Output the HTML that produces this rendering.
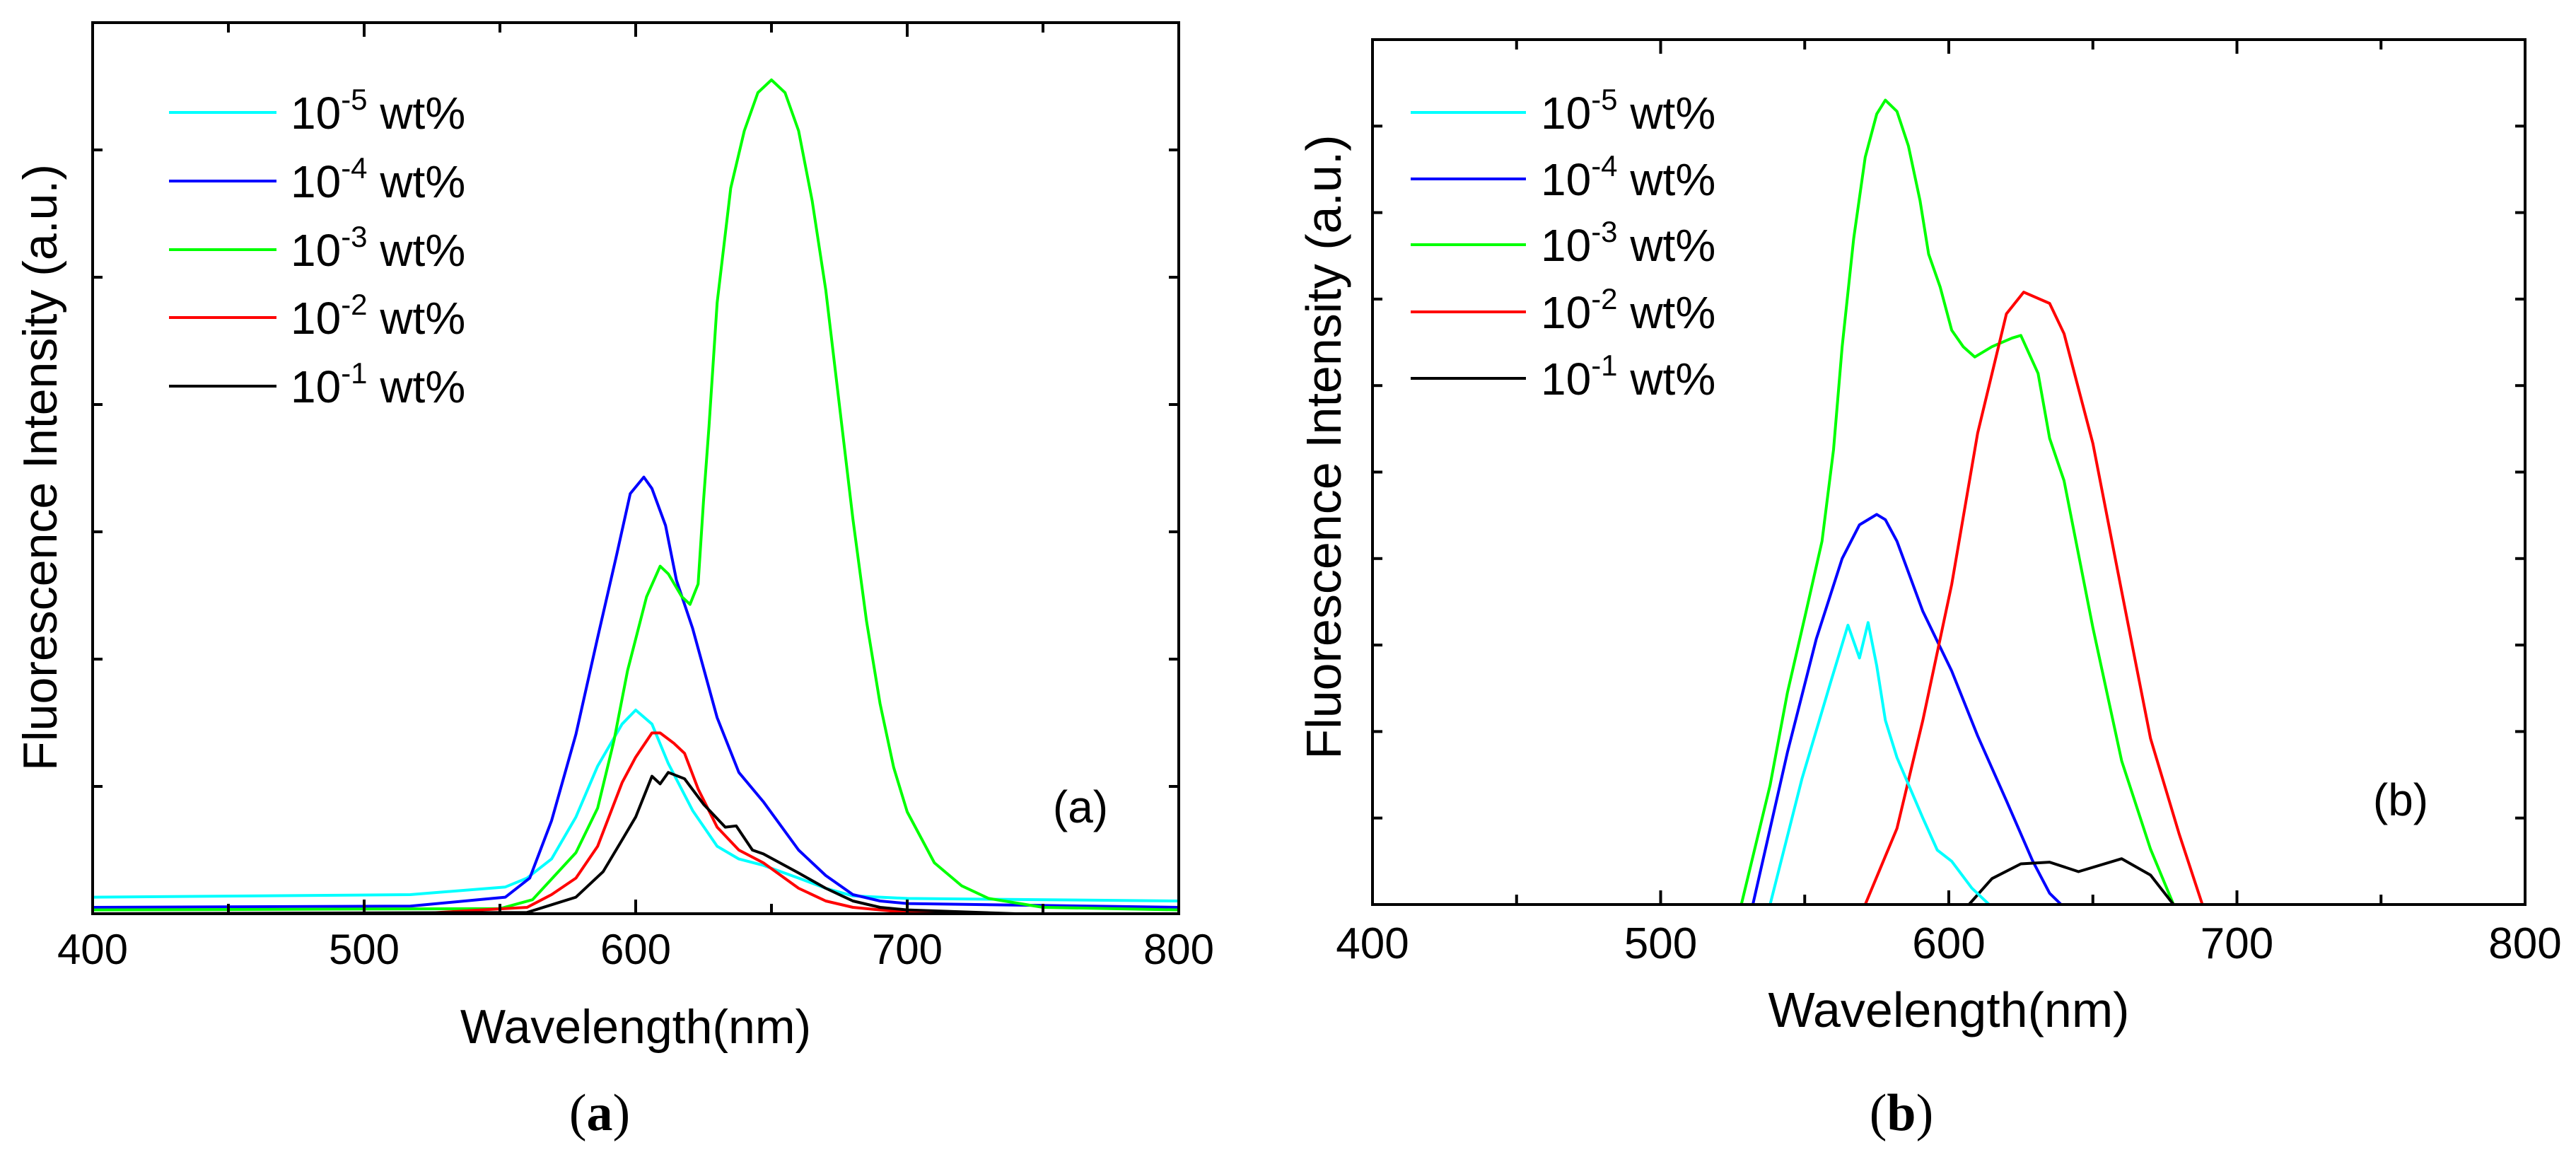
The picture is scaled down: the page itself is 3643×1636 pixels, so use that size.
<!DOCTYPE html>
<html><head><meta charset="utf-8"><style>
html,body{margin:0;padding:0;background:#fff}
svg{display:block}
text{font-family:"Liberation Sans",sans-serif;fill:#000}
</style></head><body>
<svg id="fig" width="3643" height="1636" viewBox="0 0 3643 1636" xmlns="http://www.w3.org/2000/svg"></svg>
<script>
const xTicks=[400,500,600,700,800];
const legendLabels=["-5","-4","-3","-2","-1"];
const seriesColors=["#00ffff","#0000ff","#00ff00","#ff0000","#000000"];
// Panel (a)
const aCyanX=[400,517,552,560,569,578,586,595,600,606,612,621,630,638,647,660,670,680,700,800];
const aCyanY=[0.13,0.15,0.21,0.28,0.43,0.76,1.16,1.49,1.6,1.49,1.18,0.81,0.53,0.43,0.38,0.28,0.2,0.14,0.12,0.1];
const aBlueX=[400,517,552,561,569,578,586,593,598,603,606,611,615,621,630,638,647,660,670,680,690,700,800];
const aBlueY=[0.05,0.06,0.13,0.28,0.73,1.41,2.17,2.82,3.3,3.43,3.34,3.05,2.62,2.24,1.54,1.11,0.88,0.5,0.3,0.15,0.1,0.08,0.05];
const aGreenX=[400,550,562,578,586,592,597,604,609,612,617,620,623,625,627,630,635,640,645,650,655,660,665,670,675,680,685,690,695,700,710,720,730,750,800];
const aGreenY=[0.03,0.04,0.11,0.48,0.83,1.36,1.91,2.49,2.73,2.67,2.49,2.43,2.59,3.25,3.83,4.8,5.7,6.15,6.45,6.55,6.45,6.15,5.6,4.9,4.0,3.1,2.3,1.65,1.15,0.8,0.4,0.22,0.12,0.05,0.03];
const aRedX=[520,543,560,569,578,586,595,600,606,609,614,618,623,630,638,647,660,670,680,700,720];
const aRedY=[0,0.03,0.05,0.15,0.28,0.53,1.03,1.23,1.42,1.42,1.34,1.26,0.98,0.68,0.5,0.4,0.2,0.1,0.05,0.01,0];
const aBlackX=[400,560,578,588,595,600,606,609,612,618,625,633,637,643,647,660,670,680,690,700,740];
const aBlackY=[0,0.01,0.13,0.33,0.58,0.76,1.08,1.02,1.11,1.06,0.86,0.68,0.69,0.5,0.47,0.32,0.2,0.1,0.05,0.03,0];
// Panel (b)
const bCyanX=[400,538,549,559,565,569,572,575,578,582,591,596,601,608,614,800];
const bCyanY=[0,0,1.45,2.57,3.23,2.85,3.26,2.76,2.13,1.7,1.0,0.63,0.5,0.19,0,0];
const bBlueX=[400,532,544,554,563,569,575,578,582,591,601,610,620,629,635,639,800];
const bBlueY=[0,0,1.76,3.07,4.0,4.39,4.51,4.45,4.2,3.39,2.7,1.95,1.2,0.51,0.13,0,0];
const bGreenX=[400,528,538,544,550,556,560,563,567,571,575,578,582,586,590,593,597,601,605,609,615,622,625,631,635,640,650,660,670,678,800];
const bGreenY=[0,0,1.38,2.45,3.32,4.2,5.26,6.45,7.7,8.64,9.14,9.3,9.17,8.77,8.14,7.52,7.14,6.64,6.45,6.33,6.45,6.55,6.58,6.14,5.39,4.9,3.2,1.66,0.64,0,0];
const bRedX=[400,571,582,591,601,610,620,626,635,640,650,660,670,680,688,800];
const bRedY=[0,0,0.88,2.13,3.7,5.45,6.83,7.08,6.95,6.6,5.33,3.62,1.92,0.81,0,0];
const bBlackX=[607,615,625,635,645,660,670,678];
const bBlackY=[0,0.3,0.47,0.49,0.38,0.53,0.34,0];

const NS="http://www.w3.org/2000/svg";
const svg=document.getElementById('fig');
function mk(tag,attrs,parent){const e=document.createElementNS(NS,tag);for(const k in attrs)e.setAttribute(k,attrs[k]);(parent||svg).appendChild(e);return e;}

function panel(p){
  const g=mk('g',{});
  
  
  const sx=v=>p.L+(v-400)/400*(p.R-p.L);
  const sy=v=>p.B-v/p.ymax*(p.B-p.T);
  p.series.forEach((s,i)=>{
    const pts=s.x.map((xv,j)=>sx(xv).toFixed(1)+','+sy(s.y[j]).toFixed(1)).join(' ');
    const pl=mk('polyline',{points:pts,fill:'none',stroke:s.c,'stroke-width':4,'stroke-linejoin':'round'},g);
    
    
  });
  const fr=mk('rect',{x:p.L,y:p.T,width:p.R-p.L,height:p.B-p.T,fill:'none',stroke:'#000','stroke-width':4},g);
  
  
  for(let v=400;v<=800;v+=50){
    const x=sx(v),len=(v%100===0)?20:14;
    mk('line',{x1:x,y1:p.B,x2:x,y2:p.B-len,stroke:'#000','stroke-width':4},g);
    mk('line',{x1:x,y1:p.T,x2:x,y2:p.T+len,stroke:'#000','stroke-width':4},g);
  }
  xTicks.forEach(v=>{
    const t=mk('text',{x:sx(v),y:p.labY,'font-size':p.fs,'text-anchor':'middle'},g);
    t.textContent=v;
    
    
  });
  for(let k=1;k<p.ymax;k++){
    const y=sy(k);
    mk('line',{x1:p.L,y1:y,x2:p.L+14,y2:y,stroke:'#000','stroke-width':4},g);
    mk('line',{x1:p.R,y1:y,x2:p.R-14,y2:y,stroke:'#000','stroke-width':4},g);
  }
  const xt=mk('text',{x:(p.L+p.R)/2,y:p.xtY,'font-size':p.tfs,'text-anchor':'middle'},g);
  xt.textContent='Wavelength(nm)';
  
  
  const yt=mk('text',{x:0,y:0,'font-size':p.tfs,'text-anchor':'middle',transform:`translate(${p.ytX},${p.ytY}) rotate(-90)`},g);
  yt.textContent='Fluorescence Intensity (a.u.)';
  
  
  p.legY.forEach((y,i)=>{
    const ln=mk('line',{x1:p.legX1,y1:y,x2:p.legX2,y2:y,stroke:seriesColors[i],'stroke-width':4},g);
    
    
    const t=mk('text',{x:p.legT,y:y+23,'font-size':64},g);
    
    
    const a=mk('tspan',{},t);a.textContent='10';
    const b=mk('tspan',{'font-size':42,dy:-27},t);b.textContent=legendLabels[i];
    const c=mk('tspan',{dy:27},t);c.textContent=' wt%';
  });
  const pl=mk('text',{x:p.plX,y:p.plY,'font-size':64,'text-anchor':'middle'},g);
  pl.textContent='('+p.id+')';
  
  
  const cap=mk('text',{x:p.capX,y:1598,'font-size':74,'text-anchor':'middle','font-weight':'bold',style:'font-family:"Liberation Serif",serif'},g);
  
  
  const c1=mk('tspan',{'font-weight':'normal'},cap);c1.textContent='(';
  const c2=mk('tspan',{},cap);c2.textContent=p.id;
  const c3=mk('tspan',{'font-weight':'normal'},cap);c3.textContent=')';
}

panel({id:'a',L:131,R:1667,T:32,B:1292,ymax:7,labY:1363,fs:60,tfs:68,xtY:1475,ytX:80,ytY:661,
  legY:[159,256,353,449,546],legX1:239,legX2:391,legT:411,plX:1528,plY:1163,capX:848,
  series:[{n:'1e-5',c:seriesColors[0],x:aCyanX,y:aCyanY},{n:'1e-4',c:seriesColors[1],x:aBlueX,y:aBlueY},
    {n:'1e-3',c:seriesColors[2],x:aGreenX,y:aGreenY},{n:'1e-2',c:seriesColors[3],x:aRedX,y:aRedY},{n:'1e-1',c:seriesColors[4],x:aBlackX,y:aBlackY}]});
panel({id:'b',L:1941,R:3571,T:56,B:1279,ymax:10,labY:1355,fs:62,tfs:70,xtY:1452,ytX:1896,ytY:632,
  legY:[159,253,346,441,535],legX1:1995,legX2:2158,legT:2179,plX:3395,plY:1153,capX:2689,
  series:[{n:'1e-4',c:seriesColors[1],x:bBlueX,y:bBlueY},{n:'1e-3',c:seriesColors[2],x:bGreenX,y:bGreenY},
    {n:'1e-2',c:seriesColors[3],x:bRedX,y:bRedY},{n:'1e-1',c:seriesColors[4],x:bBlackX,y:bBlackY},{n:'1e-5',c:seriesColors[0],x:bCyanX,y:bCyanY}]});
</script>
</body></html>
